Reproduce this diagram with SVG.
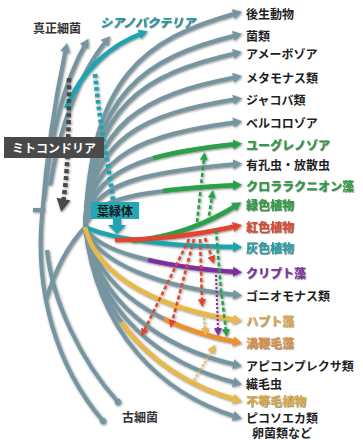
<svg xmlns="http://www.w3.org/2000/svg" width="363" height="440" viewBox="0 0 363 440">
<style>
text{font-family:"Noto Sans CJK JP","Noto Sans",sans-serif;font-weight:700;font-size:12px;dominant-baseline:central}
.lbl{fill:#1e1e1e}
.br{fill:none;stroke:#7596a1;stroke-width:4;marker-end:url(#ag)}
.nm{fill:none;stroke:#7596a1;stroke-width:4}
.c{fill:none;stroke-width:4.5}
.dash{fill:none;stroke-width:2.5;stroke-dasharray:4 2.5}
.dot{fill:none;stroke-width:2;stroke-dasharray:2 2}
</style>
<defs>
<filter id="sh" x="-10%" y="-10%" width="120%" height="120%"><feDropShadow dx="0.8" dy="1" stdDeviation="0.9" flood-color="#222" flood-opacity="0.55"/></filter>
<filter id="ts" x="-10%" y="-20%" width="120%" height="140%"><feDropShadow dx="0.6" dy="0.6" stdDeviation="0.5" flood-color="#333" flood-opacity="0.8"/></filter>
<marker id="ag" markerUnits="userSpaceOnUse" markerWidth="12" markerHeight="12" refX="4" refY="5" orient="auto"><path d="M0,0 L9,5 L0,10 z" fill="#7596a1"/></marker>
<marker id="ar" markerUnits="userSpaceOnUse" markerWidth="8" markerHeight="8" refX="4" refY="4" orient="auto"><circle cx="4" cy="4" r="3.2" fill="#7596a1"/></marker>
<marker id="acy" markerUnits="userSpaceOnUse" markerWidth="12" markerHeight="12" refX="4" refY="5" orient="auto"><path d="M0,0 L9,5 L0,10 z" fill="#1fa5b0"/></marker>
<marker id="agr" markerUnits="userSpaceOnUse" markerWidth="12" markerHeight="12" refX="4" refY="5" orient="auto"><path d="M0,0 L9,5 L0,10 z" fill="#2aa048"/></marker>
<marker id="are" markerUnits="userSpaceOnUse" markerWidth="12" markerHeight="12" refX="4" refY="5" orient="auto"><path d="M0,0 L9,5 L0,10 z" fill="#e2452f"/></marker>
<marker id="apu" markerUnits="userSpaceOnUse" markerWidth="12" markerHeight="12" refX="4" refY="5" orient="auto"><path d="M0,0 L9,5 L0,10 z" fill="#7f2fa0"/></marker>
<marker id="aye" markerUnits="userSpaceOnUse" markerWidth="12" markerHeight="12" refX="4" refY="5" orient="auto"><path d="M0,0 L9,5 L0,10 z" fill="#e8b84a"/></marker>
<marker id="aor" markerUnits="userSpaceOnUse" markerWidth="12" markerHeight="12" refX="4" refY="5" orient="auto"><path d="M0,0 L9,5 L0,10 z" fill="#f0902c"/></marker>
<marker id="sgr" markerUnits="userSpaceOnUse" markerWidth="10" markerHeight="10" refX="2" refY="4" orient="auto"><path d="M0,0 L8,4 L0,8 z" fill="#2aa048"/></marker>
<marker id="sre" markerUnits="userSpaceOnUse" markerWidth="10" markerHeight="10" refX="2" refY="4" orient="auto"><path d="M0,0 L8,4 L0,8 z" fill="#e2452f"/></marker>
<marker id="spu" markerUnits="userSpaceOnUse" markerWidth="10" markerHeight="10" refX="2" refY="4" orient="auto"><path d="M0,0 L8,4 L0,8 z" fill="#7f2fa0"/></marker>
<marker id="sye" markerUnits="userSpaceOnUse" markerWidth="10" markerHeight="10" refX="2" refY="4" orient="auto"><path d="M0,0 L8,4 L0,8 z" fill="#e8b84a"/></marker>
<marker id="adk" markerUnits="userSpaceOnUse" markerWidth="16" markerHeight="16" refX="3" refY="7" orient="auto"><path d="M0,0 L13,7 L0,14 z" fill="#4a4a4a"/></marker>
</defs>

<g id="connectors" filter="url(#sh)">
  <path class="nm" d="M33,210 L45,210"/>
  <path class="br" d="M103,421 C55,365 35,290 42,215 C47,150 56,95 66,48" style="marker-start:url(#ar)"/>
  <path class="nm" d="M118,402 C80,360 52,300 47,250" style="marker-start:url(#ar)"/>
  <path class="br" d="M44,200 C50,140 62,85 86,43"/>
  <path class="br" d="M50,185 C60,125 80,72 107,40"/>
  <path class="c" stroke="#1fa5b0" d="M66,108 C82,70 110,45 143,33" marker-end="url(#acy)"/>
  <path class="nm" d="M46,300 C55,270 68,245 85,227"/>
  <path class="br" d="M85,227 C91,77 143,39 237,13"/>
  <path class="br" d="M85,227 C91,93 143,58 237,35"/>
  <path class="br" d="M85,227 C91,105 143,74 237,53"/>
  <path class="br" d="M85,227 C91,122 143,95 237,77"/>
  <path class="br" d="M85,227 C91,137 143,114 237,99"/>
  <path class="br" d="M85,227 C91,153 143,135 237,122"/>
  <path class="nm" d="M85,227 C91,169 143,154 237,144"/>
  <path class="br" d="M85,227 C91,183 143,172 237,164"/>
  <path class="nm" d="M85,227 C91,198 143,190 237,185"/>
  <path class="nm" d="M85,227 C97,252 161,267 237,272"/>
  <path class="br" d="M85,227 C97,264 161,287 237,295"/>
  <path class="nm" d="M85,227 C97,290 161,328 237,342"/>
  <path class="br" d="M85,227 C97,303 161,348 237,365"/>
  <path class="br" d="M85,227 C97,313 161,364 237,383"/>
  <path class="nm" d="M85,227 C97,322 161,379 237,400"/>
  <path class="br" d="M85,227 C97,332 161,394 237,417"/>
  <path class="c" stroke="#2aa048" pathLength="100" stroke-dasharray="0 55 100" d="M85,227 C91,169 143,154 237,144" marker-end="url(#agr)"/>
  <path class="c" stroke="#2aa048" pathLength="100" stroke-dasharray="0 55 100" d="M85,227 C91,198 143,190 237,185" marker-end="url(#agr)"/>
  <path class="c" stroke="#1fa5b0" d="M85,227 C105,236 150,246 237,247" marker-end="url(#acy)"/>
  <path class="c" stroke="#2aa048" d="M132,241 C172,237 207,224 237,205" marker-end="url(#agr)"/>
  <path class="c" stroke="#e2452f" d="M115,240 C160,240 205,233 237,226" marker-end="url(#are)"/>
  <path class="c" stroke="#7f2fa0" pathLength="100" stroke-dasharray="0 45 100" d="M85,227 C97,252 161,267 237,272" marker-end="url(#apu)"/>
  <path class="c" stroke="#e8b84a" d="M85,227 C97,278 161,309 237,320" marker-end="url(#aye)"/>
  <path class="c" stroke="#f0902c" pathLength="100" stroke-dasharray="0 62 100" d="M85,227 C97,290 161,328 237,342" marker-end="url(#aor)"/>
  <path class="c" stroke="#e8b84a" pathLength="100" stroke-dasharray="0 42 100" d="M85,227 C97,322 161,379 237,400" marker-end="url(#aye)"/>
  <path fill="none" stroke="#4a4a4a" stroke-width="4.5" stroke-dasharray="4 3" d="M69,78 C69,140 67,180 63,202" marker-end="url(#adk)"/>
  <path fill="none" stroke="#1fa5b0" stroke-width="4.5" stroke-dasharray="3.5 3" d="M95,74 C100,130 110,170 113,201"/>
  <path fill="#1fa5b0" d="M113,218 L121,218 L121,225 L126,225 L117,234 L108,225 L113,225 z"/>
  <path class="dash" stroke="#2aa048" d="M197,222 L204,158" marker-end="url(#sgr)"/>
  <path class="dash" stroke="#2aa048" d="M208,222 L212,196" marker-end="url(#sgr)"/>
  <path class="dash" stroke="#2aa048" d="M216,230 L221,290 L226,331" marker-end="url(#sgr)"/>
  <path class="dash" stroke="#e2452f" d="M205,238 L212,258" marker-end="url(#sre)"/>
  <path class="dash" stroke="#e2452f" d="M200,239 L202,301" marker-end="url(#sre)"/>
  <path class="dash" stroke="#e2452f" d="M194,239 L172,322" marker-end="url(#sre)"/>
  <path class="dash" stroke="#e2452f" d="M189,239 L144,331" marker-end="url(#sre)"/>
  <path class="dot" stroke="#7f2fa0" d="M216,275 L218,330" marker-end="url(#spu)"/>
  <path class="dot" stroke="#e8b84a" d="M204,318 L205,330" marker-end="url(#sye)"/>
  <path class="dot" stroke="#e8b84a" d="M194,380 L212,350" marker-end="url(#sye)"/>
</g>

<g id="n-bacteria"><text x="33" y="27" fill="#333" font-size="12.5">真正細菌</text></g>
<g id="n-cyano"><text x="100" y="21" fill="#1f9aa6" font-style="italic" filter="url(#ts)">シアノバクテリア</text></g>
<g id="n-archaea"><text x="122" y="416" fill="#333" font-size="12.5">古細菌</text></g>
<g id="n-mito"><rect x="4" y="137" width="100" height="21" fill="#4a4a4a"/><text x="54" y="147.5" fill="#fff" font-size="12.5" text-anchor="middle">ミトコンドリア</text></g>
<g id="n-chloro"><rect x="91" y="202" width="48" height="17" fill="#22a8b4"/><text x="115" y="210.5" fill="#1a1a1a" text-anchor="middle">葉緑体</text></g>

<g id="n1"><text class="lbl" x="246" y="13">後生動物</text></g>
<g id="n2"><text class="lbl" x="246" y="35">菌類</text></g>
<g id="n3"><text class="lbl" x="246" y="53">アメーボゾア</text></g>
<g id="n4"><text class="lbl" x="246" y="77">メタモナス類</text></g>
<g id="n5"><text class="lbl" x="246" y="99">ジャコバ類</text></g>
<g id="n6"><text class="lbl" x="246" y="122">ベルコロゾア</text></g>
<g id="n7"><text x="246" y="144" fill="#2d9d42" filter="url(#ts)">ユーグレノゾア</text></g>
<g id="n8"><text class="lbl" x="246" y="164">有孔虫・放散虫</text></g>
<g id="n9"><text x="246" y="185" fill="#2d9d42" filter="url(#ts)">クロララクニオン藻</text></g>
<g id="n10"><text x="246" y="204" fill="#2d9d42" filter="url(#ts)">緑色植物</text></g>
<g id="n11"><text x="246" y="226" fill="#dc4a30" filter="url(#ts)">紅色植物</text></g>
<g id="n12"><text x="246" y="247" fill="#24a1ad" filter="url(#ts)">灰色植物</text></g>
<g id="n13"><text x="246" y="272" fill="#7f2fa0" filter="url(#ts)">クリプト藻</text></g>
<g id="n14"><text class="lbl" x="246" y="295">ゴニオモナス類</text></g>
<g id="n15"><text x="246" y="320" fill="#e2b04c" filter="url(#ts)">ハプト藻</text></g>
<g id="n16"><text x="246" y="342" fill="#e0954a" filter="url(#ts)">渦鞭毛藻</text></g>
<g id="n17"><text class="lbl" x="246" y="365">アピコンプレクサ類</text></g>
<g id="n18"><text class="lbl" x="246" y="383">繊毛虫</text></g>
<g id="n19"><text x="246" y="400" fill="#e0ac48" filter="url(#ts)">不等毛植物</text></g>
<g id="n20"><text class="lbl" x="246" y="417">ピコソエカ類</text></g>
<g id="n21"><text class="lbl" x="252" y="432.5" font-size="9.5">卵菌類など</text></g>
</svg>
